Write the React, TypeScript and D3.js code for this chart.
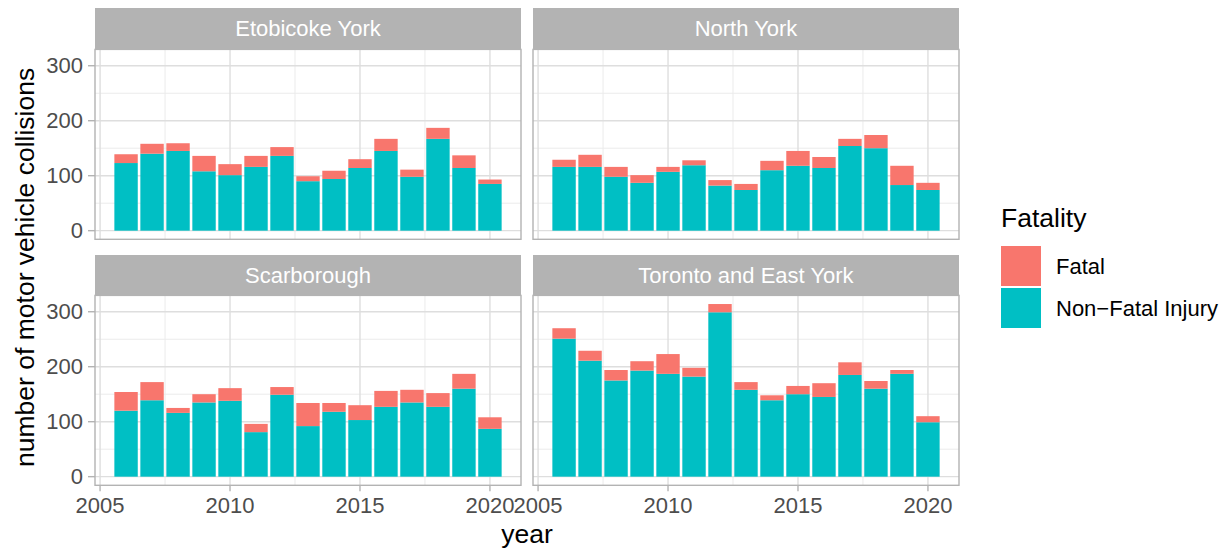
import * as d3 from 'd3';

const years = [2006, 2007, 2008, 2009, 2010, 2011, 2012, 2013, 2014, 2015, 2016, 2017, 2018, 2019, 2020];
const districts = ['Etobicoke York', 'North York', 'Scarborough', 'Toronto and East York'];
const fatalityLevels = ['Fatal', 'Non\u2212Fatal Injury'];

const etobicokeNonFatal = [123, 140, 145, 108, 101, 116, 136, 90, 94, 114, 145, 98, 167, 114, 85];
const etobicokeFatal = [16, 18, 14, 28, 20, 20, 16, 9, 15, 16, 22, 13, 20, 23, 8];
const northYorkNonFatal = [116, 116, 98, 87, 107, 119, 82, 74, 110, 118, 114, 154, 150, 83, 74];
const northYorkFatal = [13, 22, 18, 14, 9, 9, 10, 11, 17, 27, 20, 13, 24, 35, 13];
const scarboroughNonFatal = [120, 139, 116, 135, 138, 81, 149, 92, 118, 103, 127, 135, 127, 160, 87];
const scarboroughFatal = [34, 33, 9, 15, 23, 15, 14, 42, 16, 27, 29, 23, 25, 27, 21];
const torontoNonFatal = [251, 211, 175, 193, 187, 182, 299, 158, 139, 150, 145, 185, 160, 187, 99];
const torontoFatal = [19, 18, 19, 17, 36, 16, 15, 14, 9, 15, 25, 23, 14, 7, 11];

const yTicks = [0, 100, 200, 300];
const yMinor = [50, 150, 250];
const xTicks = [2005, 2010, 2015, 2020];
const xMinor = [2007.5, 2012.5, 2017.5];

const nonFatalByDistrict = [etobicokeNonFatal, northYorkNonFatal, scarboroughNonFatal, torontoNonFatal];
const fatalByDistrict = [etobicokeFatal, northYorkFatal, scarboroughFatal, torontoFatal];

const colors = ['#F8766D', '#00BFC4'];
const FONT = '"Liberation Sans", Arial, Helvetica, sans-serif';
const SMALL = 22, BIG = 26.5;

// panel geometry (ggplot facet_wrap, 2x2)
const cols = [{ left: 95, right: 521 }, { left: 533, right: 959 }];
const rows = [{ stripTop: 8, top: 49.4, bottom: 239.3 }, { stripTop: 255, top: 295.4, bottom: 485.3 }];

export default function App() {
  const maxTotal = d3.max(districts.map((_, i) => d3.max(years, (_, j) => nonFatalByDistrict[i][j] + fatalByDistrict[i][j])!))!;
  const yDomain: [number, number] = [-0.05 * maxTotal, maxTotal * 1.05];
  const span = years[years.length - 1] - years[0] + 0.9;
  const xDomain: [number, number] = [years[0] - 0.45 - span * 0.05, years[years.length - 1] + 0.45 + span * 0.05];

  const panels = districts.map((name, i) => {
    const c = cols[i % 2], r = rows[Math.floor(i / 2)];
    const x = d3.scaleLinear().domain(xDomain).range([c.left, c.right]);
    const y = d3.scaleLinear().domain(yDomain).range([r.bottom, r.top]);
    const stack = d3.stack<number>().keys(['nf', 'f']).value((j, k) => k === 'nf' ? nonFatalByDistrict[i][j] : fatalByDistrict[i][j]);
    const series = stack(years.map((_, j) => j));
    return { name, i, c, r, x, y, series };
  });

  return (
    <svg width={1225} height={550} style={{ position: 'absolute', left: 0, top: 0, fontFamily: FONT }}>
      <rect width={1225} height={550} fill="#fff" />
      {panels.map(({ name, i, c, r, x, y, series }) => (
        <g key={name}>
          {/* strip */}
          <rect x={c.left} y={r.stripTop} width={c.right - c.left} height={r.top - r.stripTop} fill="#B3B3B3" />
          <text x={(c.left + c.right) / 2} y={(r.stripTop + r.top) / 2} dy="0.35em" textAnchor="middle" fill="#fff" fontSize={SMALL}>{name}</text>
          {/* grid */}
          {yMinor.map(v => <line key={'ym' + v} x1={c.left} x2={c.right} y1={y(v)} y2={y(v)} stroke="#EBEBEB" strokeWidth={1} />)}
          {xMinor.map(v => <line key={'xm' + v} x1={x(v)} x2={x(v)} y1={r.top} y2={r.bottom} stroke="#EBEBEB" strokeWidth={1} />)}
          {yTicks.map(v => <line key={'y' + v} x1={c.left} x2={c.right} y1={y(v)} y2={y(v)} stroke="#DEDEDE" strokeWidth={1.4} />)}
          {xTicks.map(v => <line key={'x' + v} x1={x(v)} x2={x(v)} y1={r.top} y2={r.bottom} stroke="#DEDEDE" strokeWidth={1.4} />)}
          {/* bars: Non-Fatal bottom, Fatal on top */}
          {series.map((s, k) => (
            <g key={s.key} fill={k === 0 ? colors[1] : colors[0]}>
              {s.map((d, j) => (
                <rect key={j} x={x(years[j] - 0.45)} width={x(years[j] + 0.45) - x(years[j] - 0.45)}
                  y={y(d[1])} height={y(d[0]) - y(d[1])} />
              ))}
            </g>
          ))}
          <rect x={c.left} y={r.top} width={c.right - c.left} height={r.bottom - r.top} fill="none" stroke="#B3B3B3" strokeWidth={1.4} />
          {/* y axis on left column */}
          {i % 2 === 0 && yTicks.map(v => (
            <g key={'yt' + v}>
              <line x1={c.left - 7} x2={c.left} y1={y(v)} y2={y(v)} stroke="#B3B3B3" strokeWidth={1.4} />
              <text x={c.left - 12} y={y(v)} dy="0.35em" textAnchor="end" fill="#4D4D4D" fontSize={SMALL}>{v}</text>
            </g>
          ))}
          {/* x axis on bottom row */}
          {i >= 2 && xTicks.map(v => (
            <g key={'xt' + v}>
              <line x1={x(v)} x2={x(v)} y1={r.bottom} y2={r.bottom + 6} stroke="#B3B3B3" strokeWidth={1.4} />
              <text x={x(v)} y={r.bottom + 28} textAnchor="middle" fill="#4D4D4D" fontSize={SMALL}>{v}</text>
            </g>
          ))}
        </g>
      ))}
      {/* axis titles */}
      <text x={(cols[0].left + cols[1].right) / 2} y={543} textAnchor="middle" fill="#000" fontSize={BIG}>year</text>
      <text transform={`translate(34,${(rows[0].top + rows[1].bottom) / 2}) rotate(-90)`} textAnchor="middle" fill="#000" fontSize={BIG}>number of motor vehicle collisions</text>
      {/* legend */}
      <text x={1001} y={227} fill="#000" fontSize={BIG}>Fatality</text>
      {fatalityLevels.map((lab, k) => (
        <g key={lab}>
          <rect x={1001} y={246 + k * 42} width={40} height={40} fill={colors[k]} />
          <text x={1056} y={266 + k * 42} dy="0.35em" fill="#000" fontSize={SMALL}>{lab}</text>
        </g>
      ))}
    </svg>
  );
}
